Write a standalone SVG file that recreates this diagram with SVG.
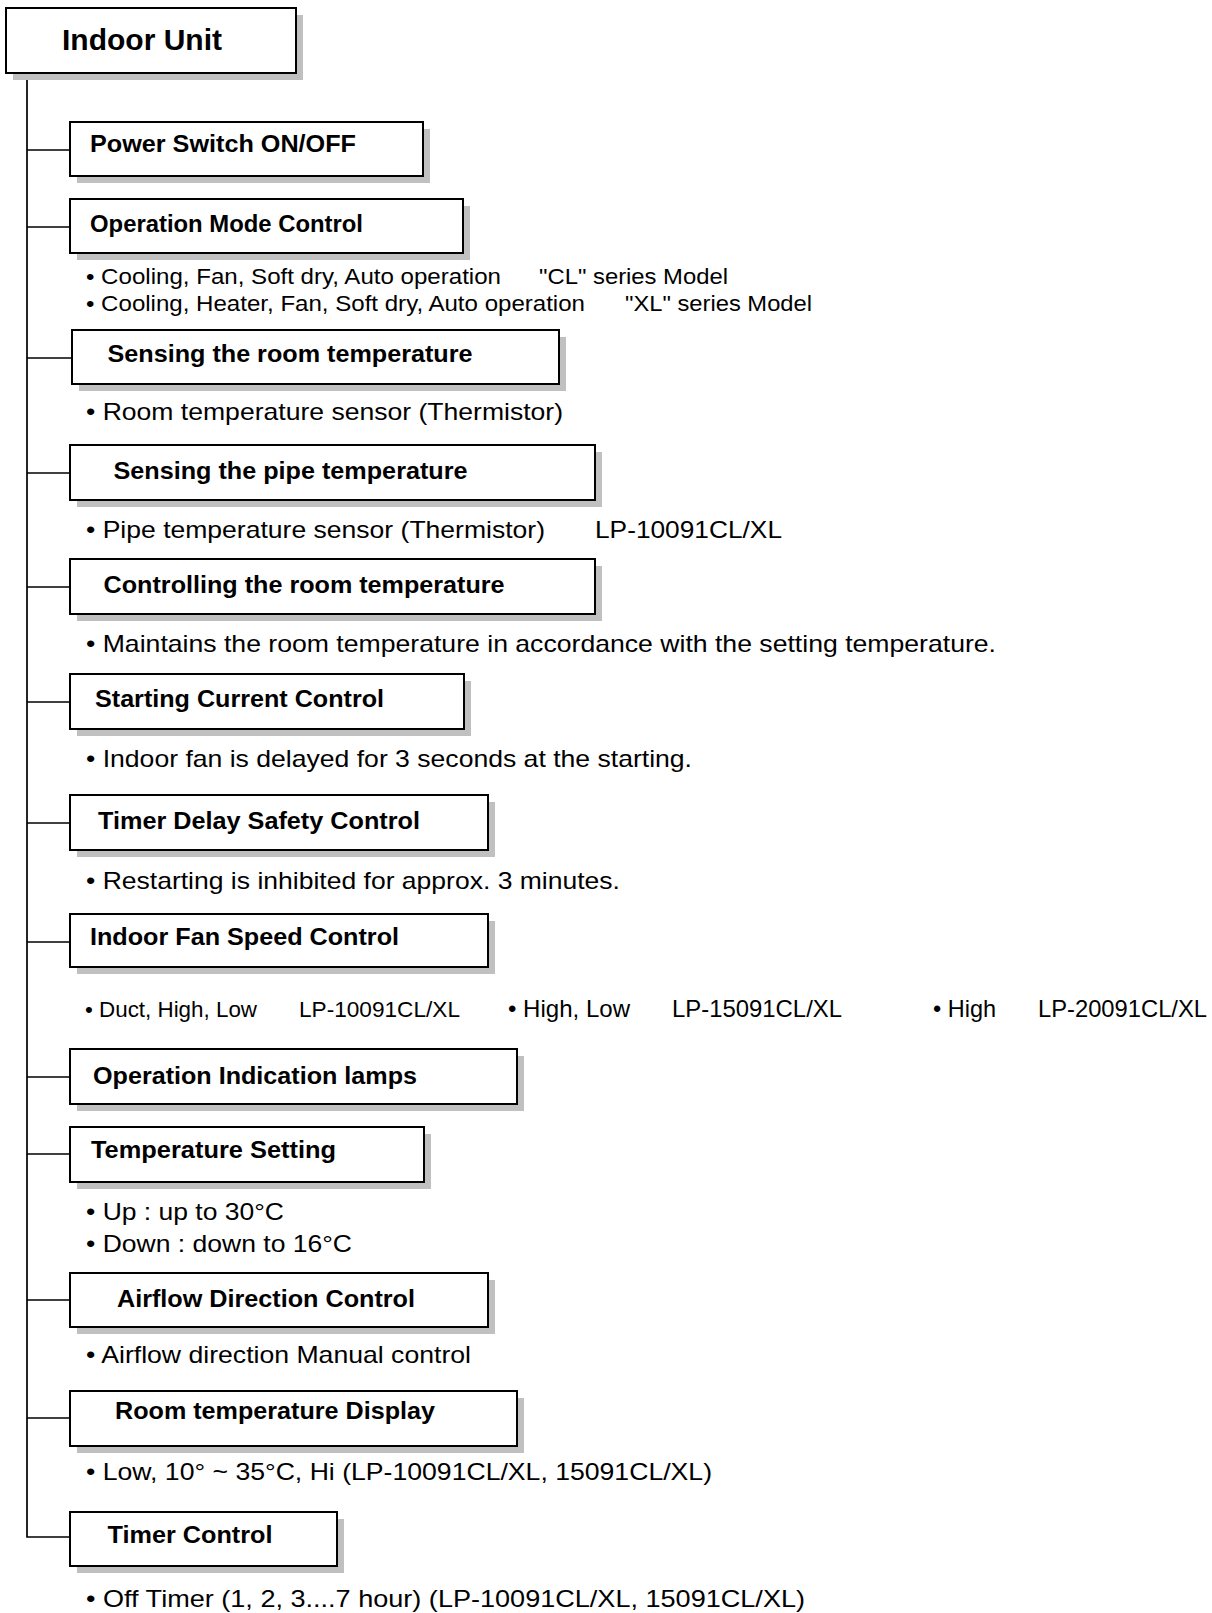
<svg xmlns="http://www.w3.org/2000/svg" width="1212" height="1613" viewBox="0 0 1212 1613">
<style>
.bg{fill:#ffffff}
.shadow{fill:#c0c0c0}
.box{fill:#ffffff;stroke:#000000;stroke-width:2}
.conn{fill:none;stroke:#000000;stroke-width:1.7}
.title{font-family:"Liberation Sans",Arial,Helvetica,sans-serif;font-weight:bold;font-size:30px;fill:#000}
.label{font-family:"Liberation Sans",Arial,Helvetica,sans-serif;font-weight:bold;font-size:24.5px;fill:#000}
.body{font-family:"Liberation Sans",Arial,Helvetica,sans-serif;font-size:24px;fill:#000}
.small{font-family:"Liberation Sans",Arial,Helvetica,sans-serif;font-size:22px;fill:#000}
.mid{font-family:"Liberation Sans",Arial,Helvetica,sans-serif;font-size:22px;fill:#000}
</style>
<rect class="bg" x="0" y="0" width="1212" height="1613"/>

<g id="connectors">
  <path class="conn" d="M27,73 V1537 H70"/>
  <line class="conn" x1="27" y1="150" x2="70" y2="150"/>
  <line class="conn" x1="27" y1="227" x2="70" y2="227"/>
  <line class="conn" x1="27" y1="358" x2="72" y2="358"/>
  <line class="conn" x1="27" y1="473" x2="70" y2="473"/>
  <line class="conn" x1="27" y1="587" x2="70" y2="587"/>
  <line class="conn" x1="27" y1="702" x2="70" y2="702"/>
  <line class="conn" x1="27" y1="823" x2="70" y2="823"/>
  <line class="conn" x1="27" y1="942" x2="70" y2="942"/>
  <line class="conn" x1="27" y1="1077" x2="70" y2="1077"/>
  <line class="conn" x1="27" y1="1154" x2="70" y2="1154"/>
  <line class="conn" x1="27" y1="1300" x2="70" y2="1300"/>
  <line class="conn" x1="27" y1="1418" x2="70" y2="1418"/>
</g>

<g id="indoor-unit">
  <rect class="shadow" x="13" y="15" width="290" height="65"/>
  <rect class="box" x="6" y="8" width="290" height="65"/>
  <text class="title" x="62" y="50" textLength="160" lengthAdjust="spacingAndGlyphs">Indoor Unit</text>
</g>

<g id="power-switch">
  <rect class="shadow" x="77" y="129" width="353" height="54"/>
  <rect class="box" x="70" y="122" width="353" height="54"/>
  <text class="label" x="90" y="152" textLength="266" lengthAdjust="spacingAndGlyphs">Power Switch ON/OFF</text>
</g>

<g id="operation-mode">
  <rect class="shadow" x="77" y="206" width="393" height="54"/>
  <rect class="box" x="70" y="199" width="393" height="54"/>
  <text class="label" x="90" y="232" textLength="273" lengthAdjust="spacingAndGlyphs">Operation Mode Control</text>
  <text class="small" x="86" y="284" textLength="415" lengthAdjust="spacingAndGlyphs">• Cooling, Fan, Soft dry, Auto operation</text>
  <text class="small" x="539" y="284" textLength="189" lengthAdjust="spacingAndGlyphs">"CL" series Model</text>
  <text class="small" x="86" y="311" textLength="499" lengthAdjust="spacingAndGlyphs">• Cooling, Heater, Fan, Soft dry, Auto operation</text>
  <text class="small" x="625" y="311" textLength="187" lengthAdjust="spacingAndGlyphs">"XL" series Model</text>
</g>

<g id="sensing-room">
  <rect class="shadow" x="79" y="337" width="487" height="54"/>
  <rect class="box" x="72" y="330" width="487" height="54"/>
  <text class="label" x="107.5" y="362" textLength="365" lengthAdjust="spacingAndGlyphs">Sensing the room temperature</text>
  <text class="body" x="86" y="420" textLength="477" lengthAdjust="spacingAndGlyphs">• Room temperature sensor (Thermistor)</text>
</g>

<g id="sensing-pipe">
  <rect class="shadow" x="77" y="452" width="525" height="55"/>
  <rect class="box" x="70" y="445" width="525" height="55"/>
  <text class="label" x="113.5" y="479" textLength="354" lengthAdjust="spacingAndGlyphs">Sensing the pipe temperature</text>
  <text class="body" x="86" y="538" textLength="459" lengthAdjust="spacingAndGlyphs">• Pipe temperature sensor (Thermistor)</text>
  <text class="body" x="595" y="538" textLength="187" lengthAdjust="spacingAndGlyphs">LP-10091CL/XL</text>
</g>

<g id="controlling-room">
  <rect class="shadow" x="77" y="566" width="525" height="55"/>
  <rect class="box" x="70" y="559" width="525" height="55"/>
  <text class="label" x="103.6" y="593" textLength="401" lengthAdjust="spacingAndGlyphs">Controlling the room temperature</text>
  <text class="body" x="86" y="652" textLength="910" lengthAdjust="spacingAndGlyphs">• Maintains the room temperature in accordance with the setting temperature.</text>
</g>

<g id="starting-current">
  <rect class="shadow" x="77" y="681" width="394" height="55"/>
  <rect class="box" x="70" y="674" width="394" height="55"/>
  <text class="label" x="95" y="707" textLength="289" lengthAdjust="spacingAndGlyphs">Starting Current Control</text>
  <text class="body" x="86" y="767" textLength="606" lengthAdjust="spacingAndGlyphs">• Indoor fan is delayed for 3 seconds at the starting.</text>
</g>

<g id="timer-delay">
  <rect class="shadow" x="77" y="802" width="418" height="55"/>
  <rect class="box" x="70" y="795" width="418" height="55"/>
  <text class="label" x="98" y="829" textLength="322" lengthAdjust="spacingAndGlyphs">Timer Delay Safety Control</text>
  <text class="body" x="86" y="889" textLength="534" lengthAdjust="spacingAndGlyphs">• Restarting is inhibited for approx. 3 minutes.</text>
</g>

<g id="fan-speed">
  <rect class="shadow" x="77" y="921" width="418" height="53"/>
  <rect class="box" x="70" y="914" width="418" height="53"/>
  <text class="label" x="90" y="945" textLength="309" lengthAdjust="spacingAndGlyphs">Indoor Fan Speed Control</text>
  <text class="mid" x="85" y="1017" textLength="172" lengthAdjust="spacingAndGlyphs">• Duct, High, Low</text>
  <text class="mid" x="299" y="1017" textLength="161" lengthAdjust="spacingAndGlyphs">LP-10091CL/XL</text>
  <text class="body" x="508" y="1017" textLength="122" lengthAdjust="spacingAndGlyphs">• High, Low</text>
  <text class="body" x="672" y="1017" textLength="170" lengthAdjust="spacingAndGlyphs">LP-15091CL/XL</text>
  <text class="body" x="933" y="1017" textLength="63" lengthAdjust="spacingAndGlyphs">• High</text>
  <text class="body" x="1038" y="1017" textLength="169" lengthAdjust="spacingAndGlyphs">LP-20091CL/XL</text>
</g>

<g id="indication-lamps">
  <rect class="shadow" x="77" y="1056" width="447" height="55"/>
  <rect class="box" x="70" y="1049" width="447" height="55"/>
  <text class="label" x="93" y="1084" textLength="324" lengthAdjust="spacingAndGlyphs">Operation Indication lamps</text>
</g>

<g id="temperature-setting">
  <rect class="shadow" x="77" y="1134" width="354" height="55"/>
  <rect class="box" x="70" y="1127" width="354" height="55"/>
  <text class="label" x="91" y="1158" textLength="245" lengthAdjust="spacingAndGlyphs">Temperature Setting</text>
  <text class="body" x="86" y="1220" textLength="198" lengthAdjust="spacingAndGlyphs">• Up : up to 30°C</text>
  <text class="body" x="86" y="1252" textLength="266" lengthAdjust="spacingAndGlyphs">• Down : down to 16°C</text>
</g>

<g id="airflow-direction">
  <rect class="shadow" x="77" y="1280" width="418" height="54"/>
  <rect class="box" x="70" y="1273" width="418" height="54"/>
  <text class="label" x="117" y="1307" textLength="298" lengthAdjust="spacingAndGlyphs">Airflow Direction Control</text>
  <text class="body" x="86" y="1363" textLength="385" lengthAdjust="spacingAndGlyphs">• Airflow direction Manual control</text>
</g>

<g id="room-display">
  <rect class="shadow" x="77" y="1398" width="447" height="55"/>
  <rect class="box" x="70" y="1391" width="447" height="55"/>
  <text class="label" x="115" y="1419" textLength="320" lengthAdjust="spacingAndGlyphs">Room temperature Display</text>
  <text class="body" x="86" y="1480" textLength="626" lengthAdjust="spacingAndGlyphs">• Low, 10° ~ 35°C, Hi (LP-10091CL/XL, 15091CL/XL)</text>
</g>

<g id="timer-control">
  <rect class="shadow" x="77" y="1519" width="267" height="54"/>
  <rect class="box" x="70" y="1512" width="267" height="54"/>
  <text class="label" x="107.5" y="1543" textLength="165" lengthAdjust="spacingAndGlyphs">Timer Control</text>
  <text class="body" x="86" y="1607" textLength="719" lengthAdjust="spacingAndGlyphs">• Off Timer (1, 2, 3....7 hour) (LP-10091CL/XL, 15091CL/XL)</text>
</g>
</svg>
